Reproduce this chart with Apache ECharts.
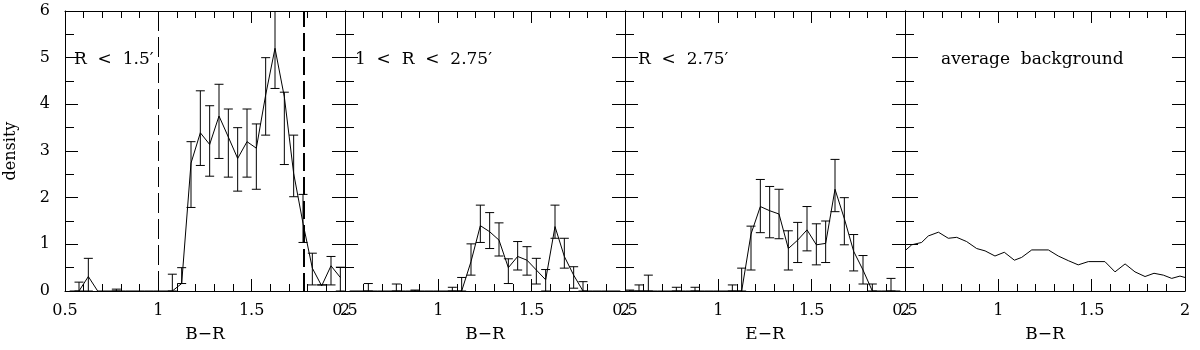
<!DOCTYPE html>
<html>
<head>
<meta charset="utf-8">
<script src="https://cdn.jsdelivr.net/npm/echarts@6/dist/echarts.min.js"></script>
<style>
html,body{margin:0;padding:0;background:#fff;}
#chart{width:1200px;height:350px;}
</style>
</head>
<body>
<div id="chart"></div>
<script>
// ---- data ----
const binX = [0.525, 0.575, 0.625, 0.675, 0.725, 0.775, 0.825, 0.875, 0.925, 0.975,
              1.025, 1.075, 1.125, 1.175, 1.225, 1.275, 1.325, 1.375, 1.425, 1.475,
              1.525, 1.575, 1.625, 1.675, 1.725, 1.775, 1.825, 1.875, 1.925, 1.975];

const panelTitles = ["R  <  1.5\u2032", "1  <  R  <  2.75\u2032", "R  <  2.75\u2032", "average  background"];
const axisNames = ["B\u2212R", "B\u2212R", "E\u2212R", "B\u2212R"];
const xTicks = [0.5, 1, 1.5, 2];
const yTicks = [0, 1, 2, 3, 4, 5, 6];

// panel 1 : R < 1.5'
const p1Density = [0, 0, 0.31, 0, 0, 0, 0, 0, 0, 0,
                   0, 0, 0.16, 2.74, 3.39, 3.14, 3.75, 3.3, 2.84, 3.2,
                   3.06, 4.2, 5.2, 4.16, 2.52, 1.45, 0.49, 0.11, 0.54, 0.29];
const p1ErrLow  = [null, 0, 0, null, null, 0, null, null, null, null,
                   null, 0, 0.16, 1.79, 2.69, 2.46, 2.84, 2.44, 2.14, 2.44,
                   2.18, 3.34, 4.34, 2.71, 2.02, 1.04, 0.13, 0.13, 0.13, 0];
const p1ErrHigh = [null, 0.19, 0.7, null, null, 0.04, null, null, null, null,
                   null, 0.36, 0.5, 3.2, 4.29, 3.97, 4.43, 3.9, 3.5, 3.9,
                   3.58, 5.0, 6.3, 4.26, 3.34, 2.07, 0.81, 0.13, 0.74, 0.51];
const p1Cuts = [1.0, 1.78];

// panel 2 : 1 < R < 2.75'
const p2Density = [0, 0, 0, 0, 0, 0, 0, 0, 0, 0,
                   0, 0, 0, 0.63, 1.4, 1.27, 1.09, 0.5, 0.74, 0.66,
                   0.45, 0.24, 1.38, 0.74, 0.34, 0, 0, 0, 0, 0];
const p2ErrLow  = [null, null, 0, null, null, 0, null, 0, null, null,
                   null, 0, 0, 0.34, 1.04, 0.91, 0.75, 0.16, 0.45, 0.34,
                   0.15, 0, 1.13, 0.49, 0.06, 0, null, null, null, null];
const p2ErrHigh = [null, null, 0.16, null, null, 0.15, null, 0.02, null, null,
                   null, 0.08, 0.29, 1.01, 1.84, 1.68, 1.46, 0.69, 1.06, 0.95,
                   0.7, 0.46, 1.84, 1.13, 0.52, 0.2, null, null, null, null];

// panel 3 : R < 2.75'
const p3Density = [0, 0, 0, 0, 0, 0, 0, 0, 0, 0,
                   0, 0, 0, 1.22, 1.81, 1.72, 1.65, 0.91, 1.09, 1.31,
                   0.99, 1.02, 2.18, 1.55, 0.85, 0.45, 0, 0, 0, 0];
const p3ErrLow  = [0, 0, 0, null, null, 0, null, 0, null, null,
                   null, 0, 0, 0.45, 1.25, 1.14, 1.12, 0.45, 0.61, 0.86,
                   0.56, 0.61, 1.7, 0.99, 0.43, 0.15, 0, null, 0, null];
const p3ErrHigh = [0.02, 0.13, 0.34, null, null, 0.08, null, 0.08, null, null,
                   null, 0.13, 0.49, 1.39, 2.39, 2.24, 2.18, 1.29, 1.47, 1.81,
                   1.44, 1.5, 2.82, 2.0, 1.21, 0.76, 0.15, null, 0.27, null];

// panel 4 : average background
const bgX = [0.505, 0.536, 0.589, 0.625, 0.679, 0.732, 0.777, 0.83, 0.884, 0.929,
             0.982, 1.032, 1.086, 1.125, 1.179, 1.268, 1.321, 1.375, 1.428, 1.482,
             1.571, 1.625, 1.679, 1.732, 1.786, 1.834, 1.884, 1.929, 1.973, 2.0];
const bgY = [0.88, 0.99, 1.04, 1.18, 1.26, 1.13, 1.15, 1.06, 0.91, 0.86,
             0.75, 0.83, 0.66, 0.72, 0.88, 0.88, 0.75, 0.65, 0.56, 0.63,
             0.63, 0.41, 0.58, 0.41, 0.31, 0.38, 0.34, 0.27, 0.32, 0.29];

// ---- chart ----
const FONT = "DejaVu Serif";
const GL = 65, GT = 11, GW = 280, GH = 280;

const grids = [], xAxes = [], yAxes = [], series = [], graphics = [];

function tickCfg(len) {
  return { show: true, inside: true, length: len, lineStyle: { color: '#000', width: 1 } };
}

for (let i = 0; i < 4; i++) {
  grids.push({ left: GL + GW * i, top: GT, width: GW, height: GH, outerBoundsMode: 'none', containLabel: false });
  const common = {
    gridIndex: i, type: 'value', min: xTicks[0], max: xTicks[xTicks.length - 1], interval: 0.5,
    axisLine: { show: true, onZero: false, lineStyle: { color: '#000', width: 1 } },
    axisTick: tickCfg(12),
    minorTick: { show: true, splitNumber: 5, length: 7, lineStyle: { color: '#000', width: 1 } },
    splitLine: { show: false }, minorSplitLine: { show: false }
  };
  xAxes.push(Object.assign({}, common, {
    position: 'bottom',
    axisLabel: { show: true, margin: 12, color: '#000', fontFamily: FONT, fontSize: 16, showMinLabel: true, showMaxLabel: true, hideOverlap: false },
    name: axisNames[i], nameLocation: 'middle', nameGap: 35,
    nameTextStyle: { color: '#000', fontFamily: FONT, fontSize: 17 }
  }));
  xAxes.push(Object.assign({}, common, { position: 'top', axisLabel: { show: false } }));

  const ycommon = {
    gridIndex: i, type: 'value', min: yTicks[0], max: yTicks[yTicks.length - 1], interval: 1,
    axisLine: { show: true, onZero: false, lineStyle: { color: '#000', width: 1 } },
    axisTick: tickCfg(13),
    minorTick: { show: true, splitNumber: 2, length: 9, lineStyle: { color: '#000', width: 1 } },
    splitLine: { show: false }, minorSplitLine: { show: false }
  };
  yAxes.push(Object.assign({}, ycommon, {
    position: 'left',
    axisLabel: { show: i === 0, margin: 15, color: '#000', fontFamily: FONT, fontSize: 16 },
    name: i === 0 ? 'density' : '', nameLocation: 'middle', nameGap: 46, nameRotate: 90,
    nameTextStyle: { color: '#000', fontFamily: FONT, fontSize: 16 }
  }));
  yAxes.push(Object.assign({}, ycommon, { position: 'right', axisLabel: { show: false } }));
}

function errRender(params, api) {
  const x = api.value(0), lo = api.value(1), hi = api.value(2);
  const a = api.coord([x, lo]), b = api.coord([x, hi]);
  const w = 4.5;
  const st = { stroke: '#000', lineWidth: 1 };
  return {
    type: 'group',
    children: [
      { type: 'line', shape: { x1: a[0], y1: a[1], x2: b[0], y2: b[1] }, style: st },
      { type: 'line', shape: { x1: a[0] - w, y1: a[1], x2: a[0] + w, y2: a[1] }, style: st },
      { type: 'line', shape: { x1: b[0] - w, y1: b[1], x2: b[0] + w, y2: b[1] }, style: st }
    ]
  };
}

const panels = [
  [p1Density, p1ErrLow, p1ErrHigh],
  [p2Density, p2ErrLow, p2ErrHigh],
  [p3Density, p3ErrLow, p3ErrHigh]
];

panels.forEach((p, i) => {
  const lineSeries = {
    type: 'line', xAxisIndex: 2 * i, yAxisIndex: 2 * i,
    data: binX.map((x, k) => [x, p[0][k]]),
    symbol: 'none', lineStyle: { color: '#000', width: 1 }, silent: true, animation: false, clip: true
  };
  if (i === 0) {
    lineSeries.markLine = {
      silent: true, symbol: 'none', label: { show: false },
      data: [
        { xAxis: p1Cuts[0], lineStyle: { color: '#000', width: 1, type: [20, 6] } },
        { xAxis: p1Cuts[1], lineStyle: { color: '#000', width: 2, type: [18, 6] } }
      ]
    };
  }
  series.push(lineSeries);
  const errData = [];
  binX.forEach((x, k) => {
    if (p[1][k] !== null && p[2][k] !== null) errData.push([x, p[1][k], p[2][k]]);
  });
  series.push({
    type: 'custom', xAxisIndex: 2 * i, yAxisIndex: 2 * i,
    renderItem: errRender, data: errData, clip: true, silent: true, animation: false,
    encode: { x: 0, y: [1, 2] }
  });
});

series.push({
  type: 'line', xAxisIndex: 6, yAxisIndex: 6,
  data: bgX.map((x, k) => [x, bgY[k]]),
  symbol: 'none', lineStyle: { color: '#000', width: 1 }, silent: true, animation: false, clip: true
});

const titlePos = [[74, 51], [355, 51], [638, 51], [941, 51]];
panelTitles.forEach((t, i) => {
  graphics.push({
    type: 'text', left: titlePos[i][0], top: titlePos[i][1], silent: true,
    style: { text: t, fill: '#000', font: '17px "' + FONT + '"' }
  });
});

const chart = echarts.init(document.getElementById('chart'), null, { renderer: 'canvas' });
chart.setOption({
  animation: false,
  backgroundColor: '#fff',
  grid: grids, xAxis: xAxes, yAxis: yAxes, series: series, graphic: graphics
});
</script>
</body>
</html>
